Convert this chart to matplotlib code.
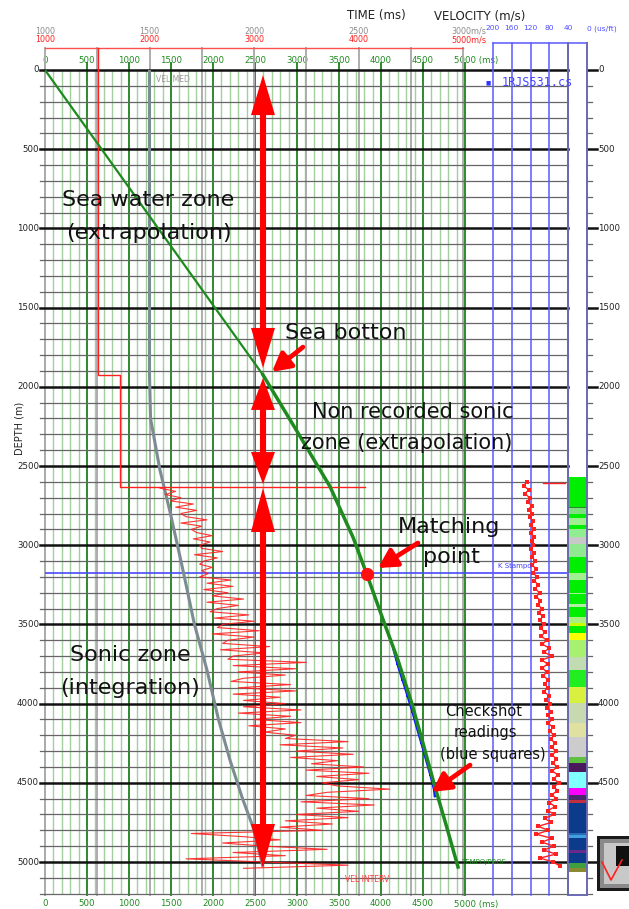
import numpy as np
import matplotlib
matplotlib.use("Agg")
import matplotlib.pyplot as plt
from matplotlib.patches import FancyArrowPatch, Rectangle, Polygon

# ---------------- data ----------------
time_ticks = [0, 500, 1000, 1500, 2000, 2500, 3000, 3500, 4000, 4500, 5000]
depth_ticks = [0, 500, 1000, 1500, 2000, 2500, 3000, 3500, 4000, 4500, 5000]
vavg_ticks = [1000, 1500, 2000, 2500, 3000]
vint_ticks = [1000, 2000, 3000, 4000, 5000]
sonic_ticks = [200, 160, 120, 80, 40, 0]

# time-depth curve (TWT ms vs depth m)
td_depth = [0, 1925, 2272, 2630, 2950, 3182, 3500, 3725, 3996, 4250, 4527, 4779, 5032]
td_time = [0, 2595, 2990, 3393, 3667, 3830, 4045, 4202, 4365, 4500, 4643, 4782, 4917]
match_idx = 5

# checkshot readings
cs_depth = [3660, 3750, 3850, 3950, 4050, 4150, 4250, 4350, 4450, 4540, 4585]
cs_time = [4150, 4195, 4255, 4315, 4372, 4425, 4480, 4533, 4587, 4630, 4640]

# average velocity (VEL MED)
vm_depth = [0, 1925, 2200, 2525, 2800, 3157, 3500, 3788, 4100, 4356, 4600, 4778, 5030]
vm_vel = [1500, 1500, 1505, 1550, 1600, 1660, 1715, 1775, 1830, 1885, 1945, 1995, 2043]

# interval velocity (VEL INTERV): extrapolated steps, then sonic-derived log
iv_step_depth = [0, 1925, 1925, 2630, 2630]
iv_step_vel = [1507, 1507, 1718, 1718, 4060]
iv_log_depth = np.arange(2640, 5041, 20)
iv_log_vel = [
    2100, 2250, 2150, 2300,
    2200, 2420, 2250, 2450, 2300,
    2350, 2550, 2300, 2500, 2400,
    2450, 2600, 2420, 2580, 2480,
    2500, 2700, 2430, 2650, 2520,
    2480, 2600, 2500, 2560,
    2480, 2780, 2550, 2800, 2520, 2750,
    2600, 2900, 2550, 2850, 2650,
    2580, 2950, 2620, 3000, 2700,
    2650, 3050, 2600, 3000, 2750,
    2700, 3150, 2680, 3100, 2800,
    2750, 3500, 2800, 3400, 2850, 3300, 2900,
    2780, 3350, 2850, 3400, 2800, 3250, 2900, 3300,
    2900, 3450, 2850, 3350, 3000, 3450, 2950, 3300, 3100, 3400,
    3300, 3900, 3250, 3850, 3400, 3950, 3350, 3800,
    3550, 4050, 3500, 4100, 3600, 4000, 3650,
    3800, 4300, 3700,
    3500, 4100, 3450, 4150, 3600, 4000, 3400, 3900,
    3300, 3750, 3250, 3650, 2400,
    2900, 3250, 2700, 3100,
    3700, 2800,
    3300, 2350, 3100,
    3900, 2900]

# sonic transit time (us/ft)
dt_depth = np.arange(2600, 5026, 25)
dt_vals = [
    128, 135, 124, 132, 122,
    126, 118, 124, 116, 122, 114,
    120, 113, 119, 112, 118, 114, 120, 112,
    117, 110, 116, 109, 114, 107,
    112, 104, 110, 101, 108, 99,
    105, 96, 103, 94, 101, 92, 98, 90,
    97, 86, 95, 80, 92, 74, 96, 84,
    95, 86, 93, 82, 90, 84, 92, 80,
    88, 78, 86, 76, 84, 75, 82, 73,
    79, 70, 77, 68, 75, 66, 74, 65, 72, 64,
    74, 62, 71, 60, 70, 63, 75, 65,
    80, 68, 83, 70, 90, 76, 104, 82,
    108, 75, 96, 70, 92, 66, 100, 72, 58]
dt_spike_depth = 2610
dt_spike_vals = [94, 47]

# lithology column
litho_top = [2572, 2757, 2765, 2800, 2830, 2870, 2900, 2950, 2990, 3072, 3178, 3220, 3300, 3310,
             3370, 3390, 3451, 3493, 3510, 3556, 3598, 3704, 3788, 3893, 3998, 4125, 4209, 4335,
             4377, 4430, 4535, 4577, 4609, 4630, 4819, 4830, 4851, 4924, 4945, 5008, 5040]
litho_base = litho_top[1:] + [5061]
litho_color = ['#00ee00', '#2a8a2a', '#7ee07e', '#00ee00', '#a0f090', '#00ee00', '#90ee90',
               '#c8c8c8', '#90e890', '#00ee00', '#a0f090', '#00ee00', '#a0f090', '#00ee00',
               '#b0f0a0', '#00ee00', '#a8f080', '#ccff00', '#00ee00', '#ffff00', '#a8f070',
               '#c0dcb0', '#20ee20', '#d8f040', '#c8d8b0', '#e0e0a0', '#cccccc', '#60c040',
               '#4a1a5a', '#80ffff', '#ff00ff', '#4a2a6a', '#c03040', '#0d3b8c', '#2a6ab0',
               '#40a0e0', '#0d3b8c', '#6a2a8a', '#0d3b8c', '#40a040', '#8a8a30']

# ---------------- layout ----------------
W, H = 629, 909
TOP, BOT = 70, 895
PX_PER_M = 0.1584
DMAX = (BOT - TOP) / PX_PER_M
T_LEFT, T_RIGHT = 45, 465
PX_PER_MS = (T_RIGHT - T_LEFT) / time_ticks[-1]

fig = plt.figure(figsize=(W / 100, H / 100), dpi=100)
fig.patch.set_facecolor('white')


def rect(x0, x1, y0=TOP, y1=BOT):
    return [x0 / W, 1 - y1 / H, (x1 - x0) / W, (y1 - y0) / H]


def make_ax(x0, x1, xlim, z):
    ax = fig.add_axes(rect(x0, x1))
    ax.set_xlim(*xlim)
    ax.set_ylim(DMAX, 0)
    ax.set_zorder(z)
    ax.axis('off')
    return ax


def fy(ypx):
    return (BOT - ypx) / (BOT - TOP)


def dpx(ypx):
    return (ypx - TOP) / PX_PER_M


def ftext(x, y, s, **kw):
    kw.setdefault('zorder', 10)
    return fig.text(x / W, 1 - y / H, s, **kw)


GREEN = '#1f8a1f'
SMALL = 6.2

# time grid
ax_tg = make_ax(T_LEFT, T_RIGHT, (0, 5000), 1)
for t in range(0, 5001, 100):
    if t % 500:
        ax_tg.axvline(t, color='#a3cf9f', lw=1.0)
for t in time_ticks:
    ax_tg.plot([t, t], [dpx(63), DMAX], color='#2b8a2b', lw=1.4, clip_on=False)
xt = ax_tg.get_xaxis_transform()
for t in time_ticks:
    lab = str(t)
    for yy in (60.5, 904):
        if t == time_ticks[-1]:
            ax_tg.text(t - 130, fy(yy), lab + ' (ms)', transform=xt, ha='left', va='center',
                       fontsize=SMALL, color=GREEN, clip_on=False)
        else:
            ax_tg.text(t, fy(yy), lab, transform=xt, ha='center', va='center',
                       fontsize=SMALL, color=GREEN, clip_on=False)

# velocity grids and top scales
ax_vg = make_ax(45, 463, (1000, 3000), 1.5)
for v in np.arange(1000, 3001, 250):
    ax_vg.plot([v, v], [dpx(48), DMAX], color='#adadad', lw=1.4, clip_on=False)
xv = ax_vg.get_xaxis_transform()
for i, v in enumerate(vavg_ticks):
    last = i == len(vavg_ticks) - 1
    ax_vg.text(v - (55 if last else 0), fy(31.5), str(v) + ('m/s' if last else ''), transform=xv,
               ha='left' if last else 'center', va='center', fontsize=5.8,
               color='#8c8c8c', clip_on=False)

ax_vi = make_ax(45, 463, (1000, 5000), 4.1)
ax_vi.plot([vint_ticks[0], vint_ticks[-1]], [dpx(48)] * 2, color='#ff5050', lw=1.0, clip_on=False)
xr = ax_vi.get_xaxis_transform()
for i, v in enumerate(vint_ticks):
    last = i == len(vint_ticks) - 1
    ax_vi.text(v - (110 if last else 0), fy(39.5), str(v) + ('m/s' if last else ''), transform=xr,
               ha='left' if last else 'center', va='center', fontsize=5.8,
               color='#ff2020', clip_on=False)

# horizontal depth grid
ax_h = make_ax(45, 568, (0, 1), 2)
span = 568 - 45
for d in range(0, 5201, 100):
    major = d % 500 == 0
    c = '#111111' if major else '#666666'
    lw = 1.8 if major else 0.9
    ax_h.plot([-5 / span, 1], [d, d], color=c, lw=lw, clip_on=False)
    ax_h.plot([(587 - 45) / span, ((597 if major else 592) - 45) / span], [d, d],
              color=c, lw=lw, clip_on=False)
ax_h.plot([0, 1], [3178, 3178], color='#4a4aff', lw=1.2)
for d in depth_ticks:
    ax_h.text(-6 / span, d, str(d), ha='right', va='center',
              fontsize=SMALL, color='#222222', clip_on=False)
    ax_h.text((598 - 45) / span, d, str(d), ha='left', va='center',
              fontsize=SMALL, color='#222222', clip_on=False)

# sonic panel
ax_s = make_ax(493, 587, (200, 0), 2.5)
for s in sonic_ticks[:-1]:
    ax_s.plot([s, s], [dpx(43), DMAX], color='#5a5aff', lw=1.1, clip_on=False)
ax_s.plot([sonic_ticks[0], sonic_ticks[-1]], [dpx(43)] * 2, color='#5a5aff', lw=1.1, clip_on=False)
xs = ax_s.get_xaxis_transform()
for s in sonic_ticks:
    last = s == sonic_ticks[-1]
    ax_s.text(s, fy(28.5), str(s) + (' (us/ft)' if last else ''), transform=xs,
              ha='left' if last else 'center', va='center', fontsize=5.4,
              color='#5050ff', clip_on=False)
ax_s.plot(dt_vals, dt_depth, color='#ff2020', lw=1.0, marker='s', ms=3.2, mew=0)
ax_s.plot(dt_spike_vals, [dt_spike_depth] * 2, color='#ff2020', lw=1.0)

# lithology column
ax_l = make_ax(568, 587, (0, 1), 3)
for top, base, c in zip(litho_top, litho_base, litho_color):
    ax_l.axhspan(top, base, color=c, lw=0)
for xb in (0, 1):
    ax_l.plot([xb, xb], [dpx(43), DMAX], color='#6a6ab0', lw=1.4, clip_on=False)
ax_l.plot([0, 1], [DMAX, DMAX], color='#6a6ab0', lw=1.4, clip_on=False)

# average velocity curve
ax_va = make_ax(45, 463, (1000, 3000), 4)
ax_va.plot(vm_vel, vm_depth, color='#7d8b93', lw=2.2, solid_capstyle='butt')

# interval velocity
ax_vi.plot(iv_step_vel, iv_step_depth, color='#ff2020', lw=1.0)
ax_vi.plot([iv_step_vel[0]] * 2, [dpx(48), iv_step_depth[0]], color='#ff2020', lw=1.0, clip_on=False)
ax_vi.plot(iv_log_vel, iv_log_depth, color='#ff2020', lw=0.8, alpha=0.9)

# time-depth curve, checkshots, markers and arrows
ax_t = make_ax(T_LEFT, T_RIGHT, (0, 5000), 5)
ax_t.plot(cs_time, cs_depth, color='#1515ff', lw=1.6, marker='s', ms=2.0, mew=0)
ax_t.plot(td_time[:2], td_depth[:2], color=GREEN, lw=1.6)
ax_t.plot(td_time[1:], td_depth[1:], color=GREEN, lw=2.5)
ax_t.plot(td_time[match_idx], td_depth[match_idx], 'o', ms=9.5, color='#ff1010', mew=0, zorder=6)

RED = '#ff0000'
arrow_t = 2595
HEAD_HALF = 12  # px
zone_arrows = [(32, 1881, 40), (1944, 2614, 32), (2639, 5038, 44)]
for a, b, hl in zone_arrows:
    la = hl / PX_PER_M
    hw = HEAD_HALF / PX_PER_MS
    ax_t.plot([arrow_t, arrow_t], [a + la * 0.9, b - la * 0.9], color=RED, lw=4.4,
              solid_capstyle='butt', zorder=7)
    ax_t.add_patch(Polygon([(arrow_t, a), (arrow_t - hw, a + la), (arrow_t + hw, a + la)],
                           closed=True, color=RED, lw=0, zorder=7))
    ax_t.add_patch(Polygon([(arrow_t, b), (arrow_t - hw, b - la), (arrow_t + hw, b - la)],
                           closed=True, color=RED, lw=0, zorder=7))

pointers = [((3071, 1749), (2702, 1906)),
            ((4440, 2986), (3964, 3144)),
            ((5060, 4388), (4607, 4558))]
for tail, tip in pointers:
    ax_t.add_patch(FancyArrowPatch(tail, tip, arrowstyle='-|>,head_length=11,head_width=6',
                                   mutation_scale=1, shrinkA=0, shrinkB=0, color=RED,
                                   lw=3.4, zorder=7, clip_on=False))

# annotations
BIG = dict(fontsize=16, color='#111111', ha='center', va='center', family='DejaVu Sans')
ftext(148, 200, 'Sea water zone', **BIG)
ftext(149, 233, '(extrapolation)', **BIG)
ftext(346, 333, 'Sea botton', **BIG)
ftext(413, 412, 'Non recorded sonic', **{**BIG, 'fontsize': 15})
ftext(407, 443, 'zone (extrapolation)', **{**BIG, 'fontsize': 15})
ftext(449, 527, 'Matching', **BIG)
ftext(451, 557, 'point', **BIG)
ftext(130, 655, 'Sonic zone', **BIG)
ftext(130, 688, '(integration)', **BIG)
MID = dict(fontsize=10.5, color='#111111', ha='center', va='center')
ftext(484, 712, 'Checkshot', **MID)
ftext(485, 733, 'readings', **MID)
ftext(493, 754, '(blue squares)', **MID)

ftext(376, 16, 'TIME (ms)', fontsize=8.5, color='#222222', ha='center', va='center')
ftext(480, 16, 'VELOCITY (m/s)', fontsize=8.5, color='#222222', ha='center', va='center')
ftext(20, 428, 'DEPTH (m)', fontsize=7, color='#222222', ha='center', va='center', rotation=90)

ftext(156, 79, 'VEL MED', fontsize=5.5, color='#9a9a9a', ha='left', va='center')
ftext(345, 879, 'VEL INTERV', fontsize=5.5, color='#ff4040', ha='left', va='center')
ftext(461, 862, 'TEMPO/PROF', fontsize=5, color=GREEN, ha='left', va='center')
ftext(498, 566, 'K Stampo', fontsize=5, color='#4040ff', ha='left', va='center')
ftext(502, 83, '1RJS531.cs', fontsize=8.5, color='#4444ff', ha='left', va='center',
      family='DejaVu Sans Mono')
ftext(488, 83, '\u25a0', fontsize=4, color='#3030ff', ha='center', va='center')


# small logo box at the lower right
def frect(x0, y0, x1, y1, **kw):
    fig.add_artist(Rectangle((x0 / W, 1 - y1 / H), (x1 - x0) / W, (y1 - y0) / H,
                             transform=fig.transFigure, **kw))


frect(597, 836, 632, 891, facecolor='#1a1a1a', edgecolor='none', zorder=11)
frect(600, 839, 632, 888, facecolor='#8a8a8a', edgecolor='none', zorder=11)
frect(604, 843, 632, 884, facecolor='#c8c8c8', edgecolor='none', zorder=11)
frect(616, 846, 632, 866, facecolor='#101010', edgecolor='none', zorder=11)
fig.add_artist(plt.Line2D([602 / W, 611 / W, 622 / W], [1 - 862 / H, 1 - 880 / H, 1 - 860 / H],
                          transform=fig.transFigure, color='#ff2020', lw=1.2, zorder=12))

fig.savefig('out.png', dpi=100, facecolor='white')
